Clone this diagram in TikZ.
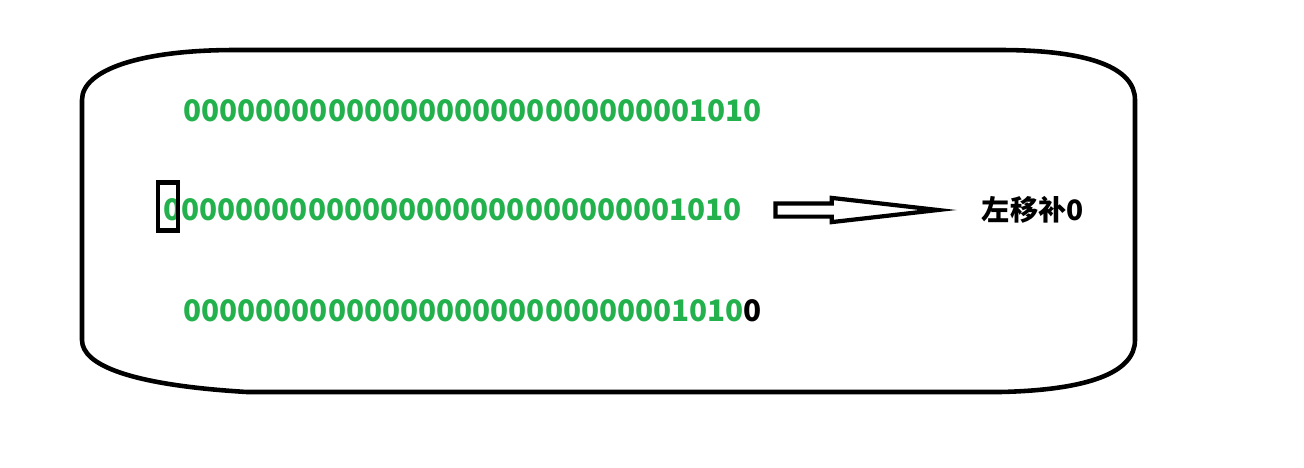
\documentclass[tikz,border=0pt]{standalone}
\usepackage{fontspec}
\setmainfont{Noto Sans CJK SC}
\usetikzlibrary{shapes.arrows,positioning}
\definecolor{bitgreen}{HTML}{22B14C}

\begin{document}
\begin{tikzpicture}[
    x=0.02cm, y=-0.02cm,
    node distance=0.62cm and 0.62cm,
    frame/.style={draw, line width=2.6pt, line join=round},
    bits/.style={anchor=west, inner sep=0pt, text=bitgreen, font=\fontsize{16.9}{19}\selectfont\bfseries},
    markbox/.style={draw, line width=2.8pt, minimum width=0.4cm, minimum height=0.96cm, inner sep=0pt},
    hollowarrow/.style={single arrow, draw, line width=2.4pt, minimum height=3.25cm, minimum width=0.4cm, inner sep=0.09cm, single arrow head extend=0.11cm, single arrow tip angle=13, single arrow head indent=0pt},
    note/.style={anchor=west, inner sep=0pt, font=\fontsize{16}{18}\selectfont\bfseries}
]
\useasboundingbox (0,0) rectangle (1304,467);

% rounded frame
\draw[frame] (82,100) .. controls (82,70) and (140,50) .. (235,50) -- (1000,50)
    .. controls (1090,50) and (1135,68) .. (1135,100) -- (1135,340)
    .. controls (1135,372) and (1090,390) .. (1000,392) -- (247,392)
    .. controls (130,385) and (82,365) .. (82,340) -- cycle;

\node[bits] (orig) at (183,111) {00000000000000000000000000001010};
\node[bits] (before) at (163,210) {00000000000000000000000000001010};
\node[bits] (after) at (183,311) {0000000000000000000000000001010\textcolor{black}{0}};

\node[markbox] (msb) at (168,206.5) {};

\node[hollowarrow, right=of before] (shift) {};
\node[note, right=0.5cm of shift.tip] (label) {左移补0};

\end{tikzpicture}
\end{document}
